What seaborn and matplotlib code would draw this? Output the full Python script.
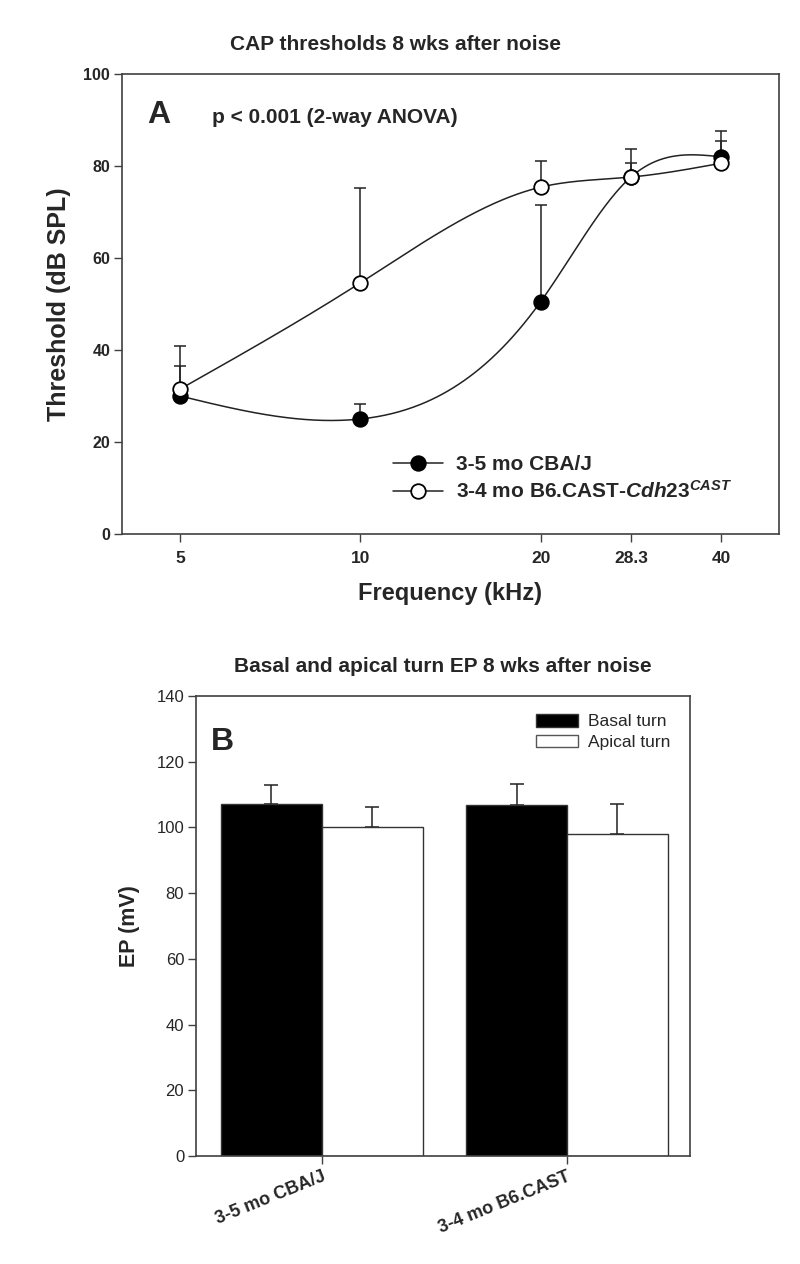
import numpy as np
import pandas as pd
import matplotlib
matplotlib.use("Agg")
import matplotlib.pyplot as plt
from matplotlib.lines import Line2D
from matplotlib.patches import Patch
import seaborn as sns

# --- panel A: CAP thresholds ---
freqs = [5, 10, 20, 28.3, 40]
freq_labels = ["5", "10", "20", "28.3", "40"]
cba_mean = [30, 25, 50.5, 77.6, 82]
cba_err = [6.5, 3.3, 21, 3, 3.5]
cast_mean = [31.5, 54.6, 75.4, 77.6, 80.6]
cast_err = [9.4, 20.6, 5.6, 6, 7]

# --- panel B: endocochlear potential ---
groups = ["3-5 mo CBA/J", "3-4 mo B6.CAST"]
basal = [107, 106.8]
basal_err = [5.8, 6.4]
apical = [100, 98]
apical_err = [6.2, 9]


def natural_spline(x, y, n=300):
    """Natural cubic spline through the points (like SigmaPlot's spline curve)."""
    x = np.asarray(x, float)
    y = np.asarray(y, float)
    k = len(x)
    h = np.diff(x)
    A = np.zeros((k, k))
    b = np.zeros(k)
    A[0, 0] = A[-1, -1] = 1
    for i in range(1, k - 1):
        A[i, i - 1] = h[i - 1]
        A[i, i] = 2 * (h[i - 1] + h[i])
        A[i, i + 1] = h[i]
        b[i] = 6 * ((y[i + 1] - y[i]) / h[i] - (y[i] - y[i - 1]) / h[i - 1])
    M = np.linalg.solve(A, b)
    xs = np.linspace(x[0], x[-1], n)
    idx = np.clip(np.searchsorted(x, xs) - 1, 0, k - 2)
    x0, x1 = x[idx], x[idx + 1]
    hh = x1 - x0
    t0, t1 = x1 - xs, xs - x0
    ys = (M[idx] * t0 ** 3 + M[idx + 1] * t1 ** 3) / (6 * hh) \
        + (y[idx] / hh - M[idx] * hh / 6) * t0 \
        + (y[idx + 1] / hh - M[idx + 1] * hh / 6) * t1
    return xs, ys


sns.set_style("ticks")
plt.rcParams["font.family"] = ["Liberation Sans", "DejaVu Sans"]
plt.rcParams["mathtext.fontset"] = "custom"
plt.rcParams["mathtext.rm"] = "Liberation Sans:bold"
plt.rcParams["mathtext.it"] = "Liberation Sans:italic:bold"
plt.rcParams["mathtext.bf"] = "Liberation Sans:bold"

W, H = 800, 1264
fig = plt.figure(figsize=(W / 100, H / 100), dpi=100)
fig.patch.set_facecolor("white")

spine_col = "#404040"

# ================= Panel A =================
axA = fig.add_axes([122 / W, 1 - 534 / H, (779 - 122) / W, 460 / H])
axA.set_xscale("log", base=2)

for mean, err, face in [(cba_mean, cba_err, "black"), (cast_mean, cast_err, "white")]:
    lx, ly = natural_spline(np.log2(freqs), mean)
    curve = pd.DataFrame({"f": 2 ** lx, "thr": ly})
    sns.lineplot(data=curve, x="f", y="thr", ax=axA, color="#222222",
                 linewidth=1.1, sort=False, estimator=None, zorder=2)
    axA.errorbar(freqs, mean, yerr=[np.zeros(len(err)), err], fmt="none",
                 ecolor="#222222", elinewidth=1.1, capsize=4.5, capthick=1.1, zorder=3)
    axA.plot(freqs, mean, linestyle="none", marker="o", markersize=10.5,
             markerfacecolor=face, markeredgecolor="black", markeredgewidth=1.3, zorder=4)

axA.set_xlim(4, 50)
axA.set_ylim(0, 100)
axA.set_xticks(freqs)
axA.set_xticklabels(freq_labels)
axA.xaxis.set_minor_locator(matplotlib.ticker.NullLocator())
axA.set_yticks([0, 20, 40, 60, 80, 100])
axA.tick_params(axis="both", which="major", direction="out", length=5.5, width=1,
                color=spine_col, labelsize=11.5, pad=3)
axA.tick_params(axis="x", labelsize=12.5, pad=7)
for lab in axA.get_xticklabels() + axA.get_yticklabels():
    lab.set_fontweight("bold")
for s in axA.spines.values():
    s.set_color(spine_col)
    s.set_linewidth(1.2)
axA.set_xlabel("Frequency (kHz)", fontsize=17, fontweight="bold", labelpad=11)
axA.set_ylabel("Threshold (dB SPL)", fontsize=18, fontweight="bold", labelpad=9)

axA.text(0.056, 0.91, "A", transform=axA.transAxes, fontsize=23, fontweight="bold",
         ha="center", va="center")
axA.text(0.137, 0.905, "p < 0.001 (2-way ANOVA)", transform=axA.transAxes,
         fontsize=15, fontweight="bold", ha="left", va="center")

handlesA = [
    Line2D([], [], color="#222222", lw=1.1, marker="o", markersize=10.5,
           markerfacecolor="black", markeredgecolor="black", markeredgewidth=1.3),
    Line2D([], [], color="#222222", lw=1.1, marker="o", markersize=10.5,
           markerfacecolor="white", markeredgecolor="black", markeredgewidth=1.3),
]
labelsA = ["3-5 mo CBA/J", r"3-4 mo B6.CAST-$\mathit{Cdh23}^{\mathit{CAST}}$"]
axA.legend(handlesA, labelsA, loc="center left",
           bbox_to_anchor=((393 - 122) / 657, 1 - (478.5 - 74) / 460),
           frameon=False, borderpad=0, borderaxespad=0, handlelength=2.4,
           handletextpad=0.6, labelspacing=0.3,
           prop={"size": 15, "weight": "bold"})

fig.text(0.495, 1 - 45 / H, "CAP thresholds 8 wks after noise", fontsize=15,
         fontweight="bold", ha="center", va="center")

# ================= Panel B =================
axB = fig.add_axes([196 / W, 1 - 1156 / H, 494 / W, 460 / H])
ep = pd.DataFrame({
    "group": groups * 2,
    "turn": ["Basal turn"] * len(groups) + ["Apical turn"] * len(groups),
    "ep": basal + apical,
})
sns.barplot(data=ep, x="group", y="ep", hue="turn", ax=axB,
            palette={"Basal turn": "black", "Apical turn": "white"},
            edgecolor="#333333", linewidth=1.0, width=0.824, errorbar=None,
            legend=False, zorder=2)

# error bars (upper only) at bar centres
bars = [p for p in axB.patches if p.get_height() > 0]
errs = basal_err + apical_err
for p, e in zip(bars, errs):
    cx = p.get_x() + p.get_width() / 2
    axB.errorbar([cx], [p.get_height()], yerr=[[0], [e]], fmt="none",
                 ecolor="#222222", elinewidth=1.1, capsize=5, capthick=1.1, zorder=1)

axB.set_xlim(-0.514, 1.502)
axB.set_ylim(0, 140)
axB.set_yticks(range(0, 141, 20))
axB.set_xlabel("")
axB.set_ylabel("EP (mV)", fontsize=15.5, fontweight="bold", labelpad=12)
axB.tick_params(axis="both", direction="out", length=5.5, width=1, color=spine_col,
                labelsize=12, pad=3)
axB.set_xticks(range(len(groups)))
axB.set_xticklabels(groups, rotation=22, ha="right", va="top",
                    rotation_mode="anchor", fontsize=13, fontweight="bold")
for s in axB.spines.values():
    s.set_color(spine_col)
    s.set_linewidth(1.2)

axB.text(0.053, 0.90, "B", transform=axB.transAxes, fontsize=23, fontweight="bold",
         ha="center", va="center")

handlesB = [Patch(facecolor="black", edgecolor="#333333", linewidth=1.0),
            Patch(facecolor="white", edgecolor="#555555", linewidth=1.0)]
axB.legend(handlesB, ["Basal turn", "Apical turn"], loc="center left",
           bbox_to_anchor=((536 - 196) / 494, 1 - (732 - 696) / 460),
           frameon=False, borderpad=0, borderaxespad=0, handlelength=2.4,
           handleheight=0.75, handletextpad=0.6, labelspacing=0.3,
           prop={"size": 12.5})

fig.text(443 / W, 1 - 667 / H, "Basal and apical turn EP 8 wks after noise",
         fontsize=15, fontweight="bold", ha="center", va="center")

fig.savefig("out.png", dpi=100, facecolor="white")
